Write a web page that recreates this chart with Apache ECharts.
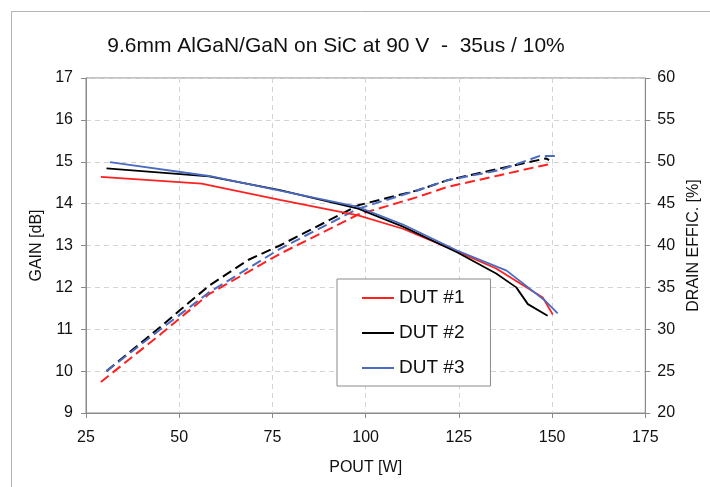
<!DOCTYPE html>
<html>
<head>
<meta charset="utf-8">
<script src="https://cdn.jsdelivr.net/npm/echarts@6/dist/echarts.min.js"></script>
<style>
  html, body { margin: 0; padding: 0; background: #fff; overflow: hidden; }
  #chart { width: 710px; height: 487px; }
</style>
</head>
<body>
<div id="chart"></div>
<script>
// Gain (solid, left axis) and drain efficiency (dashed, right axis) vs output power
const dut1GainPout = [29, 56, 77, 98, 110, 124.5, 135, 147.5, 150.2];
const dut1Gain     = [14.64, 14.48, 14.09, 13.72, 13.40, 12.86, 12.45, 11.76, 11.35];

const dut2GainPout = [30.5, 58, 77, 98, 110, 124.5, 135, 140.4, 143.5, 148.8];
const dut2Gain     = [14.84, 14.65, 14.32, 13.88, 13.45, 12.84, 12.33, 12.00, 11.60, 11.32];

const dut3GainPout = [31.4, 58, 77, 98, 110, 124.5, 137.8, 147.9, 151.5];
const dut3Gain     = [14.99, 14.66, 14.31, 13.92, 13.50, 12.88, 12.40, 11.70, 11.38];

const dut1EffPout = [29, 45, 58, 77, 98, 114, 122, 136, 147, 149.3, 150.2];
const dut1Eff     = [23.7, 29.4, 34.2, 39.0, 43.7, 45.8, 47.0, 48.4, 49.5, 49.7, 49.5];

const dut2EffPout = [30.5, 45, 50, 58, 68.6, 77, 98, 114, 122, 136, 148.4, 149.2];
const dut2Eff     = [25.0, 30.3, 32.2, 35.2, 38.3, 40.0, 44.8, 46.6, 47.8, 49.2, 50.4, 50.2];

const dut3EffPout = [30.5, 45, 58, 77, 98, 114, 122, 136, 146.7, 151.5];
const dut3Eff     = [25.0, 30.0, 34.4, 39.6, 44.4, 46.6, 47.8, 49.0, 50.7, 50.7];

const deviceNames = ['DUT #1', 'DUT #2', 'DUT #3'];
const deviceColors = ['#ff2020', '#000000', '#4a6bc0'];

const titleText = '9.6mm AlGaN/GaN on SiC at 90 V  -  35us / 10%';
const xName = 'POUT [W]';
const yLeftName = 'GAIN [dB]';
const yRightName = 'DRAIN EFFIC. [%]';

const FONT = '"Liberation Sans", Arial, Helvetica, sans-serif';

function pairs(xs, ys) {
  return xs.map((x, i) => [x, ys[i]]);
}

const gainSets = [
  pairs(dut1GainPout, dut1Gain),
  pairs(dut2GainPout, dut2Gain),
  pairs(dut3GainPout, dut3Gain)
];
const effSets = [
  pairs(dut1EffPout, dut1Eff),
  pairs(dut2EffPout, dut2Eff),
  pairs(dut3EffPout, dut3Eff)
];

const series = [];
gainSets.forEach((d, i) => {
  series.push({
    name: deviceNames[i],
    type: 'line',
    yAxisIndex: 0,
    data: d,
    symbol: 'none',
    color: deviceColors[i],
    lineStyle: { width: 1.8, color: deviceColors[i] },
    z: 3
  });
});
effSets.forEach((d, i) => {
  series.push({
    name: deviceNames[i] + ' eff',
    type: 'line',
    yAxisIndex: 1,
    data: d,
    symbol: 'none',
    color: deviceColors[i],
    lineStyle: { width: 2, color: deviceColors[i], type: [10, 5] },
    z: 2
  });
});

const axisLineStyle = { color: '#8a8a8a', width: 1 };
const gridLineStyle = { color: '#d4d4d4', width: 1, type: [5, 4] };
const labelStyle = { color: '#111', fontSize: 16, fontFamily: FONT };
const nameStyle = { color: '#111', fontSize: 16, fontFamily: FONT };

const chart = echarts.init(document.getElementById('chart'), null, { renderer: 'canvas' });
chart.setOption({
  backgroundColor: '#fff',
  animation: false,
  title: {
    text: titleText,
    left: 331,
    textAlign: 'center',
    top: 31,
    textStyle: { fontSize: 21, fontWeight: 'normal', color: '#111', fontFamily: FONT }
  },
  graphic: [{
    // outer chart-area frame (top and left edges inside the window)
    type: 'polyline',
    shape: { points: [[11.5, 487], [11.5, 11.5], [710, 11.5]] },
    style: { fill: 'none', stroke: '#b4b4b4', lineWidth: 1 },
    silent: true
  }],
  legend: {
    data: deviceNames,
    orient: 'vertical',
    left: 337,
    top: 279,
    icon: 'rect',
    itemWidth: 32,
    itemHeight: 2,
    itemGap: 13,
    padding: [8, 26, 7, 25],
    borderColor: '#8a8a8a',
    borderWidth: 1,
    backgroundColor: '#fff',
    textStyle: { fontSize: 19, fontFamily: FONT, color: '#111', lineHeight: 22 }
  },
  grid: {
    left: 86,
    right: 61,
    top: 78,
    bottom: 74,
    show: true,
    borderColor: '#8a8a8a',
    borderWidth: 1
  },
  xAxis: {
    type: 'value',
    min: 25,
    max: 175,
    interval: 25,
    name: xName,
    nameLocation: 'middle',
    nameGap: 47,
    nameTextStyle: nameStyle,
    axisLine: { show: true, lineStyle: axisLineStyle },
    axisTick: { show: true, length: 5, lineStyle: axisLineStyle },
    axisLabel: Object.assign({ margin: 17 }, labelStyle),
    splitLine: { show: true, lineStyle: gridLineStyle }
  },
  yAxis: [{
    type: 'value',
    position: 'left',
    min: 9,
    max: 17,
    interval: 1,
    name: yLeftName,
    nameLocation: 'middle',
    nameGap: 41,
    nameTextStyle: nameStyle,
    axisLine: { show: true, lineStyle: axisLineStyle },
    axisTick: { show: true, length: 5, lineStyle: axisLineStyle },
    axisLabel: Object.assign({ margin: 13 }, labelStyle),
    splitLine: { show: true, lineStyle: gridLineStyle }
  }, {
    type: 'value',
    position: 'right',
    min: 20,
    max: 60,
    interval: 5,
    name: yRightName,
    nameLocation: 'middle',
    nameGap: 36,
    nameTextStyle: nameStyle,
    axisLine: { show: true, lineStyle: axisLineStyle },
    axisTick: { show: true, length: 5, lineStyle: axisLineStyle },
    axisLabel: Object.assign({ margin: 12 }, labelStyle),
    splitLine: { show: false }
  }],
  series: series
});
</script>
</body>
</html>
